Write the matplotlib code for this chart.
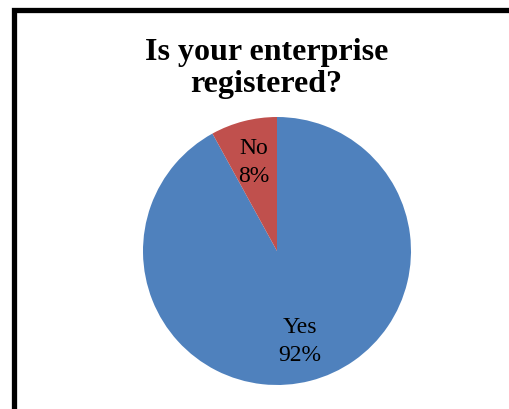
import matplotlib.pyplot as plt
from matplotlib.patches import Rectangle

# Datos del grafico
categorias = ['Yes', 'No']
valores = [92, 8]
colores = ['#4F81BD', '#C0504D']
titulo = 'Is your enterprise\nregistered?'

W, H = 509, 410
fig = plt.figure(figsize=(W / 100, H / 100), dpi=100)

# Marco negro (sale por la derecha y por abajo)
fig.patches.append(Rectangle((13.5 / W, -0.1), 1.2, (H - 10.5) / H + 0.1,
                             transform=fig.transFigure, fill=False,
                             edgecolor='black', linewidth=3.8))

# Pastel: centro (277, 252) px, radio 134 px
cx, cy, r = 277, 252, 134
ax = fig.add_axes([(cx - r) / W, (H - cy - r) / H, 2 * r / W, 2 * r / H])

etiquetas = [f'{c}\n{v}%' for c, v in zip(categorias, valores)]
wedges, textos = ax.pie(valores, labels=etiquetas, colors=colores,
                        startangle=90, counterclock=False,
                        labeldistance=0.69, radius=1,
                        textprops=dict(family='Liberation Serif', fontsize=17,
                                       linespacing=1.45))
for t in textos:
    t.set_ha('center')
    t.set_va('center')
    t.set_multialignment('center')
ax.set_xlim(-1, 1)
ax.set_ylim(-1, 1)
ax.set_aspect('equal')

fig.text(266.5 / W, 1 - 68.5 / H, titulo, ha='center', va='center',
         family='Liberation Serif', fontweight='bold', fontsize=23,
         linespacing=1.15)

fig.savefig('out.png', dpi=100)
